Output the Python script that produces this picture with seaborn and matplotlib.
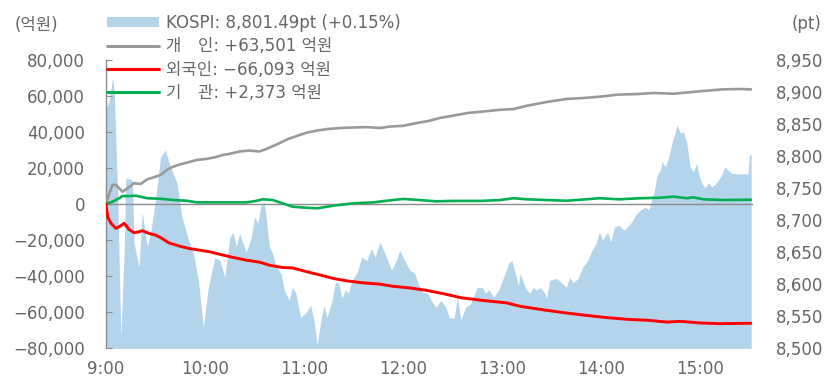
import matplotlib
matplotlib.use("Agg")
import matplotlib.pyplot as plt
import matplotlib.ticker as mticker
from matplotlib.patches import Patch
from matplotlib.lines import Line2D
import pandas as pd
import seaborn as sns

# ---------------- data (minutes after 9:00) ----------------
kospi_min = [0, 2, 4, 5, 7, 9, 11, 12, 16, 17, 20, 22, 25, 27, 30, 33, 36, 39, 43, 46,
             50, 53, 56, 59, 62, 66, 69, 72, 75, 77, 79, 81, 83, 85, 88, 90, 92, 94, 96, 97,
             99, 101, 103, 106, 108, 111, 113, 115, 118, 121, 124, 126, 128, 130, 132, 134, 137, 139, 141, 143,
             145, 147, 149, 152, 155, 158, 161, 163, 166, 169, 173, 176, 178, 181, 184, 187, 189, 192, 195, 197,
             200, 203, 206, 208, 211, 213, 215, 218, 221, 225, 228, 230, 232, 235, 238, 241, 244, 246, 248, 250,
             251, 253, 255, 257, 259, 261, 263, 266, 267, 269, 273, 276, 279, 281, 283, 286, 289, 292, 294, 297,
             299, 301, 304, 306, 308, 311, 314, 318, 321, 324, 327, 329, 332, 334, 336, 337, 339, 341, 343, 345,
             346, 348, 350, 352, 354, 356, 358, 359, 361, 363, 365, 367, 369, 371, 373, 375, 377, 379, 383, 389,
             390, 391]
kospi_val = [8872, 8887, 8922, 8898, 8747, 8517, 8653, 8766, 8762, 8664, 8627, 8712, 8658, 8680, 8731, 8798, 8809, 8783, 8758, 8705,
             8669, 8648, 8606, 8533, 8595, 8642, 8637, 8611, 8673, 8681, 8658, 8680, 8664, 8650, 8673, 8705, 8695, 8723, 8727, 8705,
             8658, 8648, 8627, 8617, 8591, 8575, 8595, 8586, 8548, 8555, 8567, 8544, 8506, 8539, 8567, 8548, 8575, 8603, 8602, 8578,
             8591, 8586, 8606, 8617, 8642, 8637, 8656, 8642, 8666, 8648, 8622, 8637, 8653, 8637, 8622, 8617, 8602, 8587, 8586, 8575,
             8564, 8575, 8564, 8548, 8547, 8580, 8544, 8564, 8570, 8595, 8595, 8586, 8591, 8580, 8591, 8611, 8633, 8637, 8617, 8598,
             8617, 8602, 8591, 8586, 8595, 8591, 8595, 8586, 8578, 8606, 8609, 8603, 8595, 8611, 8602, 8609, 8627, 8637, 8650, 8664,
             8681, 8669, 8681, 8666, 8689, 8692, 8684, 8695, 8708, 8716, 8720, 8716, 8742, 8770, 8778, 8791, 8783, 8798, 8820, 8837,
             8848, 8836, 8837, 8820, 8783, 8775, 8789, 8773, 8758, 8750, 8758, 8752, 8755, 8762, 8770, 8783, 8778, 8773, 8772, 8772,
             8801.49, 8801.49]

indiv_min = [0, 2, 4, 6, 10, 13, 17, 21, 25, 29, 33, 37, 40, 44, 49, 55, 61, 66, 71, 75,
             81, 87, 93, 97, 103, 110, 116, 122, 128, 134, 142, 150, 158, 166, 172, 180, 188, 196, 202, 210,
             219, 227, 239, 247, 255, 267, 279, 289, 301, 310, 322, 332, 344, 356, 364, 374, 384, 391]
indiv_val = [0, 5900, 10600, 10600, 6800, 8700, 11500, 11100, 13700, 14800, 16100, 18900, 20400, 21700, 22900, 24400, 25000, 25900, 27200, 27800,
             29100, 29600, 29100, 30400, 32800, 35900, 37800, 39600, 40700, 41500, 42100, 42400, 42600, 42100, 42900, 43300, 44800, 46100, 47600, 48900,
             50400, 51100, 52200, 52600, 54400, 56500, 58200, 58700, 59600, 60600, 60900, 61500, 61100, 62100, 62800, 63500, 63700, 63501]

foreign_min = [0, 1, 3, 6, 8, 11, 14, 17, 20, 22, 26, 30, 34, 38, 44, 50, 57, 63, 69, 77,
               85, 93, 99, 107, 113, 122, 130, 138, 146, 156, 166, 174, 184, 194, 204, 215, 227, 243, 251, 267,
               279, 291, 303, 316, 328, 340, 348, 360, 372, 380, 391]
foreign_val = [0, -7100, -10700, -13500, -12600, -10700, -14100, -15900, -15400, -14800, -16300, -17200, -19100, -21500, -23200, -24600, -25600, -26500, -27900, -29600,
               -31100, -32200, -33900, -35200, -35400, -37600, -39400, -41300, -42600, -43700, -44400, -45600, -46500, -47800, -49600, -51900, -53300, -54800, -56700, -58900,
               -60400, -61700, -62900, -63900, -64400, -65400, -65000, -65900, -66300, -66200, -66093]

inst_min = [0, 4, 8, 10, 14, 18, 25, 33, 41, 49, 55, 63, 73, 85, 91, 95, 101, 107, 113, 122,
            128, 138, 150, 162, 170, 180, 190, 200, 210, 227, 239, 247, 255, 267, 279, 291, 299, 311, 324, 336,
            344, 352, 356, 362, 374, 391]
inst_val = [0, 1300, 3200, 4400, 4400, 4600, 3200, 2900, 2200, 1800, 900, 900, 900, 900, 1700, 2600, 2200, 400, -1500, -2100,
            -2400, -900, 400, 900, 1800, 2800, 2200, 1500, 1700, 1700, 2200, 3200, 2600, 2200, 1800, 2600, 3200, 2600, 3200, 3500,
            4100, 3200, 3700, 2600, 2200, 2373]

hour_ticks = [0, 60, 120, 180, 240, 300, 360]
hour_labels = ["9:00", "10:00", "11:00", "12:00", "13:00", "14:00", "15:00"]

legend_labels = ["KOSPI: 8,801.49pt (+0.15%)",
                 "개\u3000인: +63,501 억원",
                 "외국인: \u221266,093 억원",
                 "기\u3000관: +2,373 억원"]

# ---------------- style ----------------
sns.set_style("white")
plt.rcParams["font.family"] = ["DejaVu Sans", "Noto Sans CJK KR"]
plt.rcParams["axes.unicode_minus"] = True
TXT = "#666666"
AX = "#8c8c8c"
FILL = "#b4d4ec"
GRAY = "#999999"
RED = "#ff0000"
GREEN = "#00b050"
FS = 12

fig = plt.figure(figsize=(8.37, 3.78), dpi=100)
ax = fig.add_axes([106 / 837, 29.6 / 378, 646 / 837, 288.8 / 378])
ax2 = ax.twinx()
ax.set_zorder(ax2.get_zorder() + 1)
ax.patch.set_visible(False)

# KOSPI area (right axis)
ax2.fill_between(kospi_min, kospi_val, 8500, color=FILL, linewidth=0)
ax2.set_ylim(8500, 8950)
ax2.yaxis.set_major_locator(mticker.MultipleLocator(50))
ax2.yaxis.set_major_formatter(mticker.StrMethodFormatter("{x:,.0f}"))
ax2.tick_params(axis="y", length=0, pad=17, labelsize=FS, labelcolor=TXT)
for s in ax2.spines.values():
    s.set_visible(False)

# investor lines (left axis)
df_i = pd.DataFrame({"t": indiv_min, "v": indiv_val})
df_f = pd.DataFrame({"t": foreign_min, "v": foreign_val})
df_n = pd.DataFrame({"t": inst_min, "v": inst_val})
sns.lineplot(data=df_i, x="t", y="v", ax=ax, color=GRAY, linewidth=1.9, zorder=3)
sns.lineplot(data=df_f, x="t", y="v", ax=ax, color=RED, linewidth=2.1, zorder=4)
sns.lineplot(data=df_n, x="t", y="v", ax=ax, color=GREEN, linewidth=1.9, zorder=3)

ax.set_xlim(0, 391.5)
ax2.set_xlim(0, 391.5)
ax.set_ylim(-80000, 80000)
ax.yaxis.set_major_locator(mticker.MultipleLocator(20000))
ax.yaxis.set_major_formatter(mticker.FuncFormatter(
    lambda v, p: ("\u2212" if v < 0 else "") + f"{abs(v):,.0f}"))
ax.set_xticks(hour_ticks)
ax.set_xticklabels(hour_labels)
ax.set_xlabel("")
ax.set_ylabel("")
ax2.set_ylabel("")

ax.spines["top"].set_visible(False)
ax.spines["right"].set_visible(False)
ax.spines["left"].set_color(AX)
ax.spines["bottom"].set_color(AX)
ax.spines["bottom"].set_position(("data", 0))
ax.spines["left"].set_linewidth(1.0)
ax.spines["bottom"].set_linewidth(1.0)
ax.tick_params(axis="y", direction="in", length=4, color=AX, pad=15, labelsize=FS, labelcolor=TXT)
ax.tick_params(axis="x", direction="in", length=4, color=AX, pad=112, labelsize=FS, labelcolor=TXT)

# legend
handles = [Patch(facecolor=FILL, edgecolor="none"),
           Line2D([], [], color=GRAY, linewidth=2.2),
           Line2D([], [], color=RED, linewidth=2.2),
           Line2D([], [], color=GREEN, linewidth=2.2)]
fig.legend(handles, legend_labels, loc="upper left", bbox_to_anchor=(107 / 837, 1 - 14 / 378),
           frameon=False, fontsize=FS, labelcolor=TXT, handlelength=3.1, handleheight=0.6,
           handletextpad=0.45, labelspacing=0.32, borderaxespad=0, borderpad=0)

fig.text(15 / 837, 1 - 25 / 378, "(억원)", fontsize=FS, color=TXT, va="center", ha="left")
fig.text(822 / 837, 1 - 24 / 378, "(pt)", fontsize=FS, color=TXT, va="center", ha="right")

fig.savefig("out.png", dpi=100)
